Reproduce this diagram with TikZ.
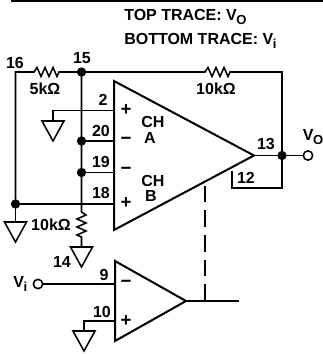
\documentclass[tikz,border=0pt]{standalone}
\usepackage{fontspec}
\setmainfont{Liberation Sans}
\usetikzlibrary{calc}
\tikzset{
 wire/.style={line width=1.15pt,line cap=butt,line join=miter},
 amp/.style={line width=1.5pt,line join=miter},
 gnd/.style={line width=1.15pt,line join=miter},
 dot/.style={circle,fill=black,inner sep=0pt,minimum size=7pt},
 term/.style={circle,draw=black,line width=1.15pt,fill=white,inner sep=0pt,minimum size=7pt},
 lbl/.style={font=\bfseries\fontsize{12}{14}\selectfont,inner sep=0pt},
 sign/.style={font=\bfseries\fontsize{14}{14}\selectfont,inner sep=0pt}
}
\newcommand{\grnd}[1]{\draw[gnd] ($(#1)+(-11,0)$) -- ($(#1)+(11,0)$) -- ($(#1)+(0,20)$) -- cycle;}
\newcommand{\subsc}[1]{\kern-0.3pt\raisebox{-3.2pt}{\fontsize{9.8}{10}\selectfont #1}}
\begin{document}
\begin{tikzpicture}[x=0.75pt,y=-0.75pt]
\useasboundingbox (0,0) rectangle (323,354);
\coordinate (rule1) at (11,0.5); \coordinate (rule2) at (323,0.5);
\draw[line width=1.5pt] (rule1) -- (rule2);
% amplifiers
\coordinate (A1) at (114,81); \coordinate (A2) at (114,230); \coordinate (A3) at (254,155.5);
\draw[amp] (A1) -- (A3) -- (A2) -- cycle;
\coordinate (B1) at (115,261); \coordinate (B2) at (115,341); \coordinate (B3) at (186,301);
\draw[amp] (B1) -- (B3) -- (B2) -- cycle;
% nodes
\node[dot] (n15) at (81.5,72) {};
\node[dot] (n20) at (81.5,141) {};
\node[dot] (n19) at (81.5,172.5) {};
\node[dot] (nL) at (15.5,204) {};
\node[dot] (nO) at (282,155.5) {};
\node[term] (vo) at (308,155.5) {};
\node[term] (vi) at (38,284) {};
\coordinate (c16) at (15.5,72);
\coordinate (c10k) at (282,72);
\coordinate (j18) at (81.5,204);
\coordinate (p2) at (114,110.5);
\coordinate (g2) at (53,110.5);
\coordinate (g2t) at (53,121);
\coordinate (p20) at (114,141);
\coordinate (p19) at (114,172.5);
\coordinate (p18) at (114,204);
\coordinate (gLt) at (15.5,222);
\coordinate (g14t) at (81.5,247);
\coordinate (p9) at (115,284);
\coordinate (p10) at (115,321);
\coordinate (g10) at (84,321);
\coordinate (g10t) at (84,331);
\coordinate (fb1) at (232,171);
\coordinate (fb2) at (232,188);
\coordinate (fb3) at (282,188);
\coordinate (d1) at (205,184);
\coordinate (d2) at (205,301);
\coordinate (out) at (239,301);
% wires
\draw[wire] (nL.center) -- (c16) -- (34,72) -- ++(3,-4.5) -- ++(4,9) -- ++(4,-9) -- ++(4,9) -- ++(4,-9) -- ++(4,9) -- ++(2,-4.5) -- (n15.center);
\draw[wire] (n15.center) -- (205,72) -- ++(3,-4.5) -- ++(4,9) -- ++(4,-9) -- ++(4,9) -- ++(4,-9) -- ++(4,9) -- ++(2,-4.5) -- (c10k) -- (fb3) -- (fb2) -- (fb1);
\draw[wire] (n15.center) -- (j18) -- (81.5,212) -- ++(4.5,3) -- ++(-9,4) -- ++(9,4) -- ++(-9,4) -- ++(9,4) -- ++(-9,4) -- ++(4.5,2) -- (g14t);
\draw[wire] (nL.center) -- (p18);
\draw[wire] (nL.center) -- (gLt);
\draw[wire] (g2t) -- (g2) -- (p2);
\draw[wire] (n20.center) -- (p20);
\draw[wire] (n19.center) -- (p19);
\draw[wire] (A3) -- (nO.center) -- (vo);
\draw[wire] (vi) -- (p9);
\draw[wire] (g10t) -- (g10) -- (p10);
\draw[wire] (B3) -- (out);
\draw[wire,dash pattern=on 12.5pt off 6pt] (d2) -- (d1);
\grnd{g2t} \grnd{gLt} \grnd{g14t} \grnd{g10t}
% text
\node[lbl,anchor=base west] (t1) at (124,20.5) {TOP TRACE: V\subsc{O}};
\node[lbl,anchor=base west] (t2) at (124,44) {BOTTOM TRACE: V\subsc{i}};
\node[lbl] (l16) at (15,63) {16};
\node[lbl] (l15) at (82,58) {15};
\node[lbl] (r5) at (45,89) {5kΩ};
\node[lbl] (r10a) at (216,89) {10kΩ};
\node[lbl] (l2) at (103,100) {2};
\node[lbl] (l20) at (101,131) {20};
\node[lbl] (l19) at (101,162) {19};
\node[lbl] (l18) at (101,193) {18};
\node[sign] (s1) at (126,110) {+};
\node[sign] (s2) at (126,141) {\char"2212};
\node[sign] (s3) at (126,171) {\char"2212};
\node[sign] (s4) at (126,203) {+};
\node[sign] (s5) at (126,284) {\char"2212};
\node[sign] (s6) at (126,321) {+};
\node[lbl] (cha) at (153,122) {CH};
\node[lbl] (a) at (150,138) {A};
\node[lbl] (chb) at (153,181) {CH};
\node[lbl] (b) at (151,196) {B};
\node[lbl] (l13) at (266,144) {13};
\node[lbl,anchor=base west] (lvo) at (302.5,140) {V\subsc{O}};
\node[lbl] (l12) at (246,178) {12};
\node[lbl] (r10b) at (51,225) {10kΩ};
\node[lbl] (l14) at (62,262) {14};
\node[lbl,anchor=base west] (lvi) at (13,287) {V\subsc{i}};
\node[lbl] (l9) at (104,275) {9};
\node[lbl] (l10) at (102,312) {10};
\end{tikzpicture}
\end{document}
